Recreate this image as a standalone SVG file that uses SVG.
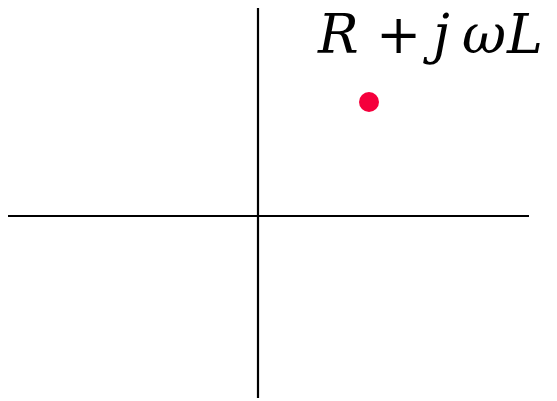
<svg xmlns="http://www.w3.org/2000/svg" width="557" height="401" viewBox="0 0 557 401">
<style>
.ax{stroke:#000;stroke-width:2.2;fill:none}
.lbl{font-family:'DejaVu Serif',serif;font-size:54px;fill:#000}
.it{font-style:italic}
</style>
<rect width="557" height="401" fill="#fff"/>
<g id="connectors">
<line class="ax" x1="8" y1="216" x2="529" y2="216"/>
<line class="ax" x1="258" y1="8" x2="258" y2="398"/>
</g>
<g id="point">
<circle cx="369" cy="102" r="10" fill="#f5003c"/>
</g>
<g id="label">
<text class="lbl" y="53"><tspan class="it" x="318">R</tspan><tspan x="376">+</tspan><tspan class="it" x="433">j</tspan><tspan class="it" x="462">ω</tspan><tspan class="it" x="507">L</tspan></text>
</g>
</svg>
